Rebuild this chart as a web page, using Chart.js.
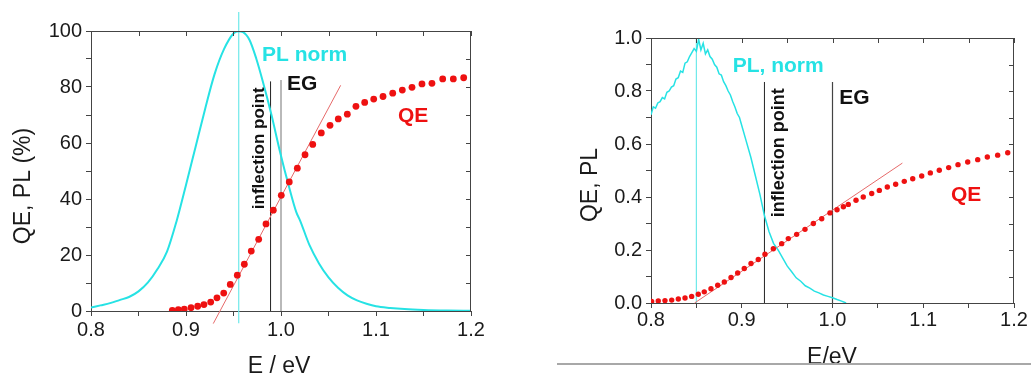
<!DOCTYPE html>
<html lang="en">
<head>
  <meta charset="UTF-8">
  <title>QE and PL vs photon energy</title>
  <script src="https://cdn.jsdelivr.net/npm/chart.js"></script>
  <style>
    body { margin: 0; background: #fff; }
    #wrap { position: relative; width: 1031px; height: 376px; overflow: hidden; }
    canvas { position: absolute; top: 0; }
    #left { left: 0; }
    #right { left: 540px; }
    #rule { position: absolute; left: 557px; top: 363px; width: 474px; height: 13px; background: #fff; border-top: 2px solid #a8a8a8; }
  </style>
</head>
<body>
<div id="wrap">
  <canvas id="left" width="520" height="376"></canvas>
  <canvas id="right" width="491" height="376"></canvas>
  <div id="rule"></div>
</div>
<script>
  // ---- left panel (QE, PL in %) ----
  const plE = [0.800, 0.810, 0.820, 0.830, 0.840, 0.850, 0.860, 0.870, 0.880, 0.890, 0.900, 0.910, 0.920, 0.930, 0.940, 0.950, 0.955, 0.960, 0.967, 0.974, 0.981, 0.990, 0.999, 1.008, 1.016, 1.020, 1.030, 1.040, 1.050, 1.060, 1.070, 1.080, 1.090, 1.100, 1.115, 1.130, 1.150, 1.175, 1.200];
  const plVal = [1.2, 2.0, 2.8, 3.9, 5.0, 7.0, 10.2, 15.0, 21.2, 32.0, 45.0, 58.5, 72.0, 84.5, 93.5, 99.1, 99.9, 99.6, 96.7, 90.1, 81.8, 70.0, 56.8, 44.9, 35.4, 32.4, 23.5, 17.0, 12.0, 8.3, 5.6, 3.8, 2.6, 1.7, 1.1, 0.7, 0.4, 0.2, 0.1];

  const qeE = [0.8856, 0.8919, 0.8982, 0.9053, 0.9123, 0.9189, 0.9260, 0.9326, 0.9397, 0.9466, 0.9540, 0.9614, 0.9687, 0.9765, 0.9842, 0.9919, 1.0003, 1.0087, 1.0172, 1.0253, 1.0334, 1.0424, 1.0516, 1.0603, 1.0698, 1.0789, 1.0881, 1.0976, 1.1074, 1.1176, 1.1277, 1.1379, 1.1484, 1.1589, 1.1702, 1.1814, 1.1923];
  const qeVal = [0.25, 0.5, 0.7, 1.2, 1.7, 2.3, 3.2, 4.7, 6.4, 9.5, 12.8, 16.7, 21.4, 25.6, 31.1, 36.0, 41.3, 46.1, 51.0, 55.8, 59.5, 63.6, 66.3, 68.6, 70.3, 73.1, 74.5, 75.7, 76.6, 77.8, 78.9, 79.9, 81.1, 81.3, 82.9, 82.9, 83.3];

  const fitE = [0.9287, 1.0628];
  const fitVal = [-4.5, 80.6];
  const peakE = 0.9555;
  const peakSpan = [-4.4, 106.8];
  const inflE = 0.989;
  const inflSpan = [0, 82];
  const egE = 1.0;
  const egSpan = [0, 82.5];
  const leftTicksY = [0, 100];

  // ---- right panel (QE, PL normalised) ----
  const pl2E = [0.8000, 0.8025, 0.8050, 0.8075, 0.8100, 0.8125, 0.8150, 0.8175, 0.8200, 0.8225, 0.8250, 0.8275, 0.8300, 0.8325, 0.8350, 0.8375, 0.8400, 0.8425, 0.8450, 0.8475, 0.8500, 0.8525, 0.8550, 0.8575, 0.8600, 0.8625, 0.8650, 0.8675, 0.8700, 0.8725, 0.8750, 0.8775, 0.8800, 0.8825, 0.8850, 0.8875, 0.8900, 0.8925, 0.8950, 0.8975, 0.9000, 0.905, 0.910, 0.915, 0.920, 0.925, 0.930, 0.935, 0.940, 0.945, 0.950, 0.955, 0.960, 0.965, 0.970, 0.975, 0.980, 0.985, 0.990, 0.995, 1.000, 1.005, 1.010, 1.015];
  const pl2Val = [0.71, 0.74, 0.735, 0.755, 0.76, 0.775, 0.77, 0.795, 0.80, 0.815, 0.82, 0.845, 0.85, 0.875, 0.87, 0.905, 0.91, 0.93, 0.945, 0.96, 0.95, 0.995, 0.955, 0.98, 0.94, 0.955, 0.93, 0.92, 0.90, 0.89, 0.865, 0.86, 0.835, 0.82, 0.80, 0.785, 0.76, 0.74, 0.715, 0.70, 0.67, 0.61, 0.55, 0.48, 0.41, 0.33, 0.27, 0.225, 0.20, 0.17, 0.14, 0.118, 0.095, 0.082, 0.065, 0.056, 0.045, 0.038, 0.03, 0.025, 0.02, 0.013, 0.007, 0.0];

  const qe2E = [0.8007, 0.8080, 0.8154, 0.8228, 0.8301, 0.8375, 0.8448, 0.8521, 0.8587, 0.8661, 0.8735, 0.8808, 0.8882, 0.8955, 0.9028, 0.9102, 0.9182, 0.9256, 0.9348, 0.9440, 0.9513, 0.9605, 0.9697, 0.9789, 0.9881, 0.9972, 1.0050, 1.0120, 1.0174, 1.0259, 1.0339, 1.0432, 1.0516, 1.0604, 1.0696, 1.0791, 1.0884, 1.0983, 1.1078, 1.1177, 1.1280, 1.1383, 1.1490, 1.1600, 1.1706, 1.1820, 1.1931];
  const qe2Val = [0.006, 0.008, 0.009, 0.011, 0.015, 0.019, 0.025, 0.033, 0.042, 0.054, 0.067, 0.079, 0.096, 0.113, 0.130, 0.149, 0.164, 0.184, 0.205, 0.224, 0.243, 0.259, 0.278, 0.300, 0.318, 0.340, 0.352, 0.363, 0.372, 0.388, 0.400, 0.413, 0.425, 0.438, 0.448, 0.459, 0.469, 0.479, 0.491, 0.501, 0.511, 0.522, 0.532, 0.541, 0.551, 0.558, 0.567];

  const fit2E = [0.848, 1.077];
  const fit2Val = [0.0, 0.528];
  const peak2E = 0.85;
  const peak2Span = [0, 1.0];
  const infl2E = 0.925;
  const infl2Span = [0, 0.834];
  const eg2E = 1.0;
  const eg2Span = [0, 0.834];

  const FONT = '"Liberation Sans", Arial, sans-serif';
  const CYAN = '#26e2e4';
  const RED = '#ee1111';

  const pts = (xs, ys) => xs.map((x, i) => ({ x: x, y: ys[i] }));
  const vline = (x, span) => [{ x: x, y: span[0] }, { x: x, y: span[1] }];

  // frame (top/right axis with inward ticks), text notes and axis titles
  const notesPlugin = {
    id: 'notes',
    afterDraw(chart, args, opts) {
      const { ctx, chartArea: a, scales: { x, y } } = chart;
      ctx.save();
      ctx.strokeStyle = '#444';
      ctx.lineWidth = 1;
      ctx.beginPath();
      ctx.moveTo(a.left, a.top + 0.5);
      ctx.lineTo(a.right - 0.5, a.top + 0.5);
      ctx.lineTo(a.right - 0.5, a.bottom);
      x.ticks.forEach(t => {
        const px = Math.round(x.getPixelForValue(t.value)) + 0.5;
        ctx.moveTo(px, a.top);
        ctx.lineTo(px, a.top + 5);
      });
      y.ticks.forEach(t => {
        const py = Math.round(y.getPixelForValue(t.value)) + 0.5;
        ctx.moveTo(a.right, py);
        ctx.lineTo(a.right - 5, py);
      });
      ctx.stroke();

      opts.notes.forEach(n => {
        ctx.save();
        ctx.font = n.font;
        ctx.fillStyle = n.color;
        ctx.textBaseline = 'middle';
        ctx.textAlign = n.rotate ? 'center' : 'left';
        ctx.translate(x.getPixelForValue(n.x), y.getPixelForValue(n.y));
        if (n.rotate) ctx.rotate(-Math.PI / 2);
        ctx.fillText(n.text, 0, 0);
        ctx.restore();
      });

      ctx.font = '23px ' + FONT;
      ctx.fillStyle = '#1a1a1a';
      ctx.textAlign = 'center';
      ctx.textBaseline = 'middle';
      ctx.fillText(opts.xTitle.text, opts.xTitle.x, opts.xTitle.y);
      ctx.translate(opts.yTitle.x, opts.yTitle.y);
      ctx.rotate(-Math.PI / 2);
      ctx.fillText(opts.yTitle.text, 0, 0);
      ctx.restore();
    }
  };

  function makeChart(id, cfg) {
    return new Chart(document.getElementById(id), {
      type: 'scatter',
      data: {
        datasets: [
          { data: cfg.qe, showLine: false, pointRadius: cfg.dot, pointBackgroundColor: RED, pointBorderWidth: 0, order: 0 },
          { data: cfg.fit, showLine: true, pointRadius: 0, borderColor: '#e66a6a', borderWidth: 1, clip: false, order: 1 },
          { data: cfg.pl, showLine: true, pointRadius: 0, borderColor: CYAN, borderWidth: cfg.plWidth, cubicInterpolationMode: cfg.smooth ? 'monotone' : 'default', order: 2 },
          { data: cfg.peak, showLine: true, pointRadius: 0, borderColor: '#6ee9ea', borderWidth: 1.2, clip: false, order: 3 },
          { data: cfg.infl, showLine: true, pointRadius: 0, borderColor: '#222', borderWidth: 1, order: 3 },
          { data: cfg.eg, showLine: true, pointRadius: 0, borderColor: cfg.egColor, borderWidth: 1.2, order: 3 }
        ]
      },
      options: {
        responsive: false,
        animation: false,
        devicePixelRatio: 1,
        layout: { padding: cfg.pad },
        plugins: {
          legend: { display: false },
          tooltip: { enabled: false },
          notes: cfg.notes
        },
        scales: {
          x: {
            type: 'linear', min: 0.8, max: 1.2,
            ticks: {
              stepSize: 0.05, autoSkip: false, maxRotation: 0, padding: cfg.xPad,
              color: '#1a1a1a', font: { family: FONT, size: 20 },
              callback: v => (Math.round(v * 100) % 10 === 0 ? v.toFixed(1) : '')
            },
            grid: { drawOnChartArea: false, tickLength: 5, tickColor: '#444' },
            border: { color: '#444', width: 1 },
            afterFit: s => { s.height = cfg.xHeight; }
          },
          y: {
            type: 'linear', min: cfg.yMin, max: cfg.yMax,
            ticks: {
              stepSize: cfg.yStep, autoSkip: false, padding: 4,
              color: '#1a1a1a', font: { family: FONT, size: 20 },
              callback: cfg.yLabel
            },
            grid: { drawOnChartArea: false, tickLength: 5, tickColor: '#444' },
            border: { color: '#444', width: 1 },
            afterFit: s => { s.width = cfg.yWidth; }
          }
        }
      },
      plugins: [notesPlugin]
    });
  }

  makeChart('left', {
    qe: pts(qeE, qeVal), fit: pts(fitE, fitVal), pl: pts(plE, plVal),
    peak: vline(peakE, peakSpan), infl: vline(inflE, inflSpan), eg: vline(egE, egSpan),
    dot: 3.4, plWidth: 2, smooth: true, egColor: '#8a8a8a',
    pad: { top: 31, right: 49, left: 0, bottom: 0 },
    xHeight: 65, yWidth: 91, xPad: 2,
    yMin: leftTicksY[0], yMax: leftTicksY[1], yStep: 10,
    yLabel: v => (Math.round(v) % 20 === 0 ? String(Math.round(v)) : ''),
    notes: {
      notes: [
        { text: 'PL norm', x: 0.980, y: 91.5, color: CYAN, font: 'bold 21px ' + FONT },
        { text: 'EG', x: 1.0063, y: 81, color: '#111', font: 'bold 21px ' + FONT },
        { text: 'QE', x: 1.1232, y: 69.7, color: RED, font: 'bold 21px ' + FONT },
        { text: 'inflection point', x: 0.9768, y: 58.1, color: '#111', font: 'bold 17px ' + FONT, rotate: true }
      ],
      xTitle: { text: 'E / eV', x: 279, y: 367 },
      yTitle: { text: 'QE, PL (%)', x: 24, y: 186 }
    }
  });

  makeChart('right', {
    qe: pts(qe2E, qe2Val), fit: pts(fit2E, fit2Val), pl: pts(pl2E, pl2Val),
    peak: vline(peak2E, peak2Span), infl: vline(infl2E, infl2Span), eg: vline(eg2E, eg2Span),
    dot: 2.7, plWidth: 1.5, smooth: false, egColor: '#444',
    pad: { top: 38, right: 17, left: 0, bottom: 0 },
    xHeight: 73, yWidth: 111, xPad: 0,
    yMin: 0, yMax: 1, yStep: 0.1,
    yLabel: v => (Math.round(v * 10) % 2 === 0 ? v.toFixed(1) : ''),
    notes: {
      notes: [
        { text: 'PL, norm', x: 0.890, y: 0.893, color: CYAN, font: 'bold 21px ' + FONT },
        { text: 'EG', x: 1.0075, y: 0.772, color: '#111', font: 'bold 21px ' + FONT },
        { text: 'QE', x: 1.1306, y: 0.405, color: RED, font: 'bold 21px ' + FONT },
        { text: 'inflection point', x: 0.941, y: 0.567, color: '#111', font: 'bold 18px ' + FONT, rotate: true }
      ],
      xTitle: { text: 'E/eV', x: 292, y: 358 },
      yTitle: { text: 'QE, PL', x: 51, y: 185 }
    }
  });
</script>
</body>
</html>
